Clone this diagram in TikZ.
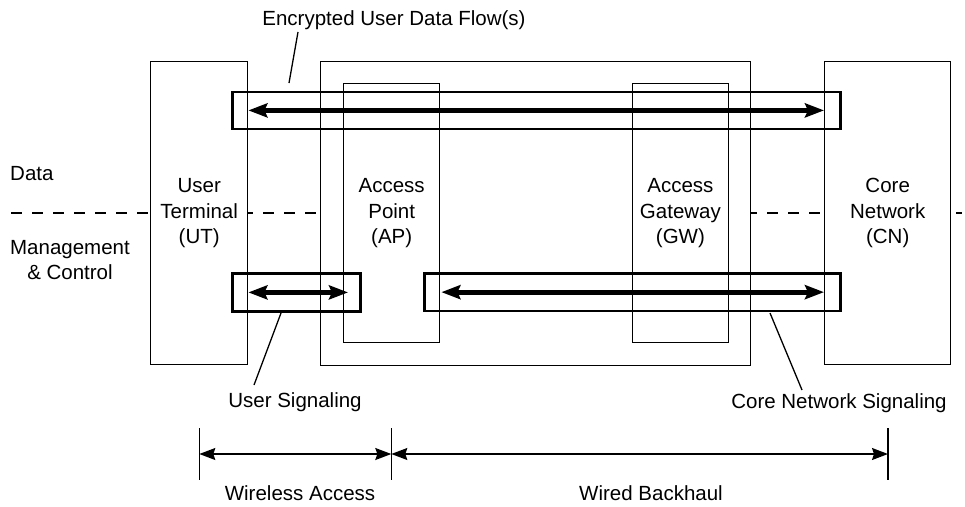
\documentclass[tikz,border=0pt]{standalone}
\usepackage{fontspec}
\setmainfont{Liberation Sans}
\usetikzlibrary{arrows.meta}
\begin{document}
\begin{tikzpicture}[x=1pt,y=-1pt,
  every node/.style={font=\fontsize{20.5}{25.5}\selectfont, text=black},
  unit/.style={draw=black, line width=1.4pt, fill=white, inner sep=0pt, align=center, anchor=north west},
  flowbox/.style={draw=black, line width=2.8pt, inner sep=0pt, anchor=north west},
  flowarrow/.style={line width=5pt, {Stealth[length=19pt,width=14pt,inset=3pt]}-{Stealth[length=19pt,width=14pt,inset=3pt]}},
  dimarrow/.style={line width=1.3pt, {Stealth[length=16pt,width=12pt,inset=2pt]}-{Stealth[length=16pt,width=12pt,inset=2pt]}},
  thin/.style={line width=1.3pt},
  dashline/.style={line width=1.3pt, dash pattern=on 11pt off 10pt},
  lbl/.style={inner sep=0pt, align=center}
]
\useasboundingbox (0,0) rectangle (965,506);

% dashed separation line
\coordinate (dl) at (11,213);
\coordinate (dr) at (962,213);
\draw[dashline] (dl) -- (dr);

% units
\node[unit, minimum width=97pt, minimum height=303pt] (ut) at (150,61) {User\\Terminal\\(UT)};
\node[unit, minimum width=126pt, minimum height=303pt] (cn) at (824,61) {Core\\Network\\(CN)};
\node[unit, minimum width=430pt, minimum height=304pt] (outer) at (320,61) {};
\node[unit, minimum width=96pt, minimum height=259pt] (ap) at (343,83) {Access\\Point\\(AP)};
\node[unit, minimum width=96pt, minimum height=259pt] (gw) at (631.7,83) {Access\\Gateway\\(GW)};

% flow boxes
\node[flowbox, minimum width=608pt, minimum height=37pt] (fa) at (231,90.5) {};
\node[flowbox, minimum width=128pt, minimum height=38pt] (fb) at (231,272) {};
\node[flowbox, minimum width=416pt, minimum height=37.5pt] (fc) at (423,272) {};

% flow arrows
\draw[flowarrow] (ut.east |- fa.center) -- (cn.west |- fa.center);
\draw[flowarrow] (ut.east |- fb.center) -- ([xshift=5pt]ap.west |- fb.center);
\draw[flowarrow] ([xshift=1pt]ap.east |- fc.center) -- (cn.west |- fc.center);

% side labels
\node[lbl, anchor=west] (data) at (10,174) {Data};
\node[lbl] (mc) at (70,260) {Management\\\& Control};

% callout labels
\node[lbl] (enc) at (394,20) {Encrypted User Data Flow(s)};
\node[lbl] (us) at (295,402) {User Signaling};
\node[lbl] (cns) at (839,403) {Core Network Signaling};

\coordinate (e1) at (289,83);
\coordinate (e2) at (298,32);
\draw[thin] (e1) -- (e2);
\coordinate (u1) at (281,313);
\coordinate (u2) at (254,385);
\draw[thin] (u1) -- (u2);
\coordinate (c1) at (770,313);
\coordinate (c2) at (802,390);
\draw[thin] (c1) -- (c2);

% dimension lines
\coordinate (t1a) at (199.3,428); \coordinate (t1b) at (199.3,480);
\coordinate (t2a) at (391.3,428); \coordinate (t2b) at (391.3,480);
\coordinate (t3a) at (888,428);   \coordinate (t3b) at (888,480);
\draw[thin] (t1a) -- (t1b);
\draw[thin] (t2a) -- (t2b);
\draw[thin] (t3a) -- (t3b);
\coordinate (m1) at (199.3,454);
\coordinate (m2) at (391.3,454);
\coordinate (m3) at (888,454);
\draw[dimarrow] (m1) -- (m2);
\draw[dimarrow] (m2) -- (m3);
\node[lbl] (wa) at (300,493) {Wireless Access};
\node[lbl] (wb) at (651,493) {Wired Backhaul};
\end{tikzpicture}
\end{document}
